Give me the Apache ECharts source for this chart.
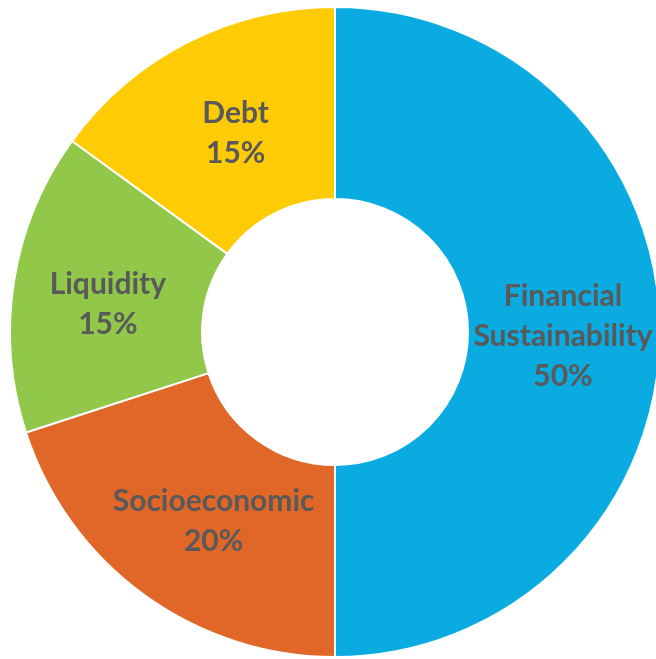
<!DOCTYPE html>
<html>
<head>
<meta charset="utf-8">
<script src="https://cdn.jsdelivr.net/npm/echarts@6/dist/echarts.min.js"></script>
<style>
html,body{margin:0;padding:0;background:#fff;}
#chart{width:656px;height:659px;}
</style>
</head>
<body>
<div id="chart"></div>
<script>
const categories = ['Financial Sustainability', 'Socioeconomic', 'Liquidity', 'Debt'];
const values = [50, 20, 15, 15];

const chart = echarts.init(document.getElementById('chart'), null, {renderer: 'canvas'});
const sliceColors = ['#0AABE1', '#E06727', '#92C84A', '#FFCB05'];
const labelShift = [[-4, 4], [15, 2], [2, 9], [6, 8]];
chart.setOption({
  animation: false,
  series: [{
    type: 'pie',
    center: [335, 332],
    radius: [133, 325],
    startAngle: 90,
    clockwise: true,
    avoidLabelOverlap: false,
    data: categories.map((c, i) => ({
      name: c, value: values[i],
      itemStyle: {color: sliceColors[i]},
      label: {offset: labelShift[i]}
    })),
    itemStyle: {borderColor: '#ffffff', borderWidth: 2},
    label: {
      show: true,
      position: 'inside',
      formatter: p => p.name.replace(' ', '\n') + '\n' + p.value + '%',
      color: '#595959',
      fontFamily: 'Lato',
      fontWeight: 'bold',
      fontSize: 30,
      lineHeight: 40
    },
    labelLine: {show: false},
    emphasis: {disabled: true}
  }]
});
</script>
</body>
</html>
